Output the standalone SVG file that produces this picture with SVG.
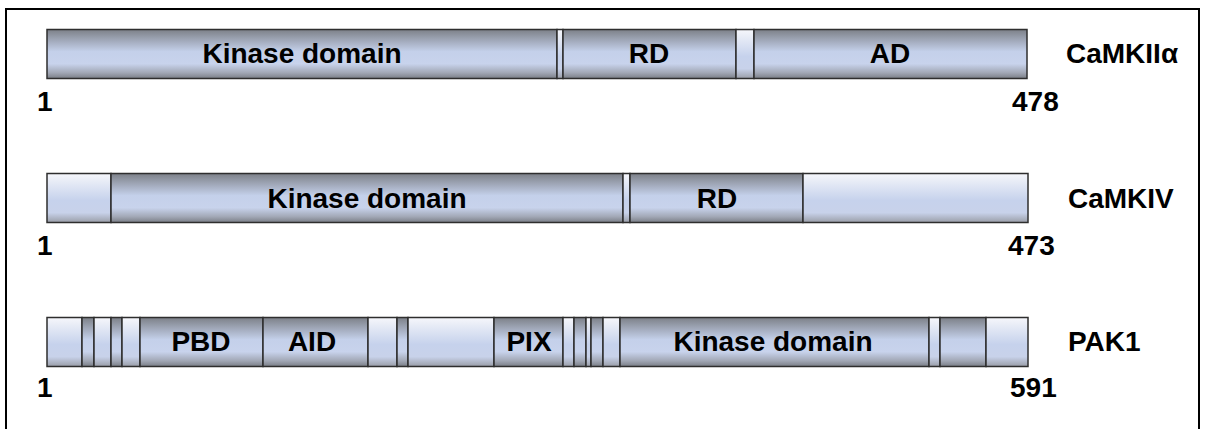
<svg xmlns="http://www.w3.org/2000/svg" width="1205" height="429" viewBox="0 0 1205 429">
<defs>
<linearGradient id="gd" x1="0" y1="0" x2="0" y2="1">
<stop offset="0" stop-color="#7c8088"/>
<stop offset="0.18" stop-color="#9aa1b0"/>
<stop offset="0.45" stop-color="#c4d0ea"/>
<stop offset="0.7" stop-color="#c8d3ec"/>
<stop offset="0.88" stop-color="#a2a8b6"/>
<stop offset="1" stop-color="#7a7e86"/>
</linearGradient>
<linearGradient id="gl" x1="0" y1="0" x2="0" y2="1">
<stop offset="0" stop-color="#f6f7fb"/>
<stop offset="0.2" stop-color="#e4e9f5"/>
<stop offset="0.55" stop-color="#c6d2ec"/>
<stop offset="0.8" stop-color="#c8d2ea"/>
<stop offset="1" stop-color="#9a9ea8"/>
</linearGradient>
<style>
.d{fill:url(#gd);stroke:#2e2e2e;stroke-width:1.5}
.l{fill:url(#gl);stroke:#2e2e2e;stroke-width:1.5}
text{font-family:"Liberation Sans",Arial,sans-serif;font-weight:bold;font-size:28px;fill:#000}
.c{text-anchor:middle}
</style>
</defs>
<rect width="1205" height="429" fill="#fff"/>
<rect x="6" y="9" width="1193" height="440" fill="none" stroke="#000" stroke-width="2"/>

<g id="camk2a">
<rect class="d" x="47" y="29.5" width="510" height="49"/>
<rect class="l" x="557" y="29.5" width="6" height="49"/>
<rect class="d" x="563" y="29.5" width="173" height="49"/>
<rect class="l" x="736" y="29.5" width="18" height="49"/>
<rect class="d" x="754" y="29.5" width="273" height="49"/>
<text class="c" x="302" y="63">Kinase domain</text>
<text class="c" x="649" y="63">RD</text>
<text class="c" x="890" y="63">AD</text>
<text x="1066" y="63">CaMKIIα</text>
<text x="37" y="111">1</text>
<text x="1012" y="111">478</text>
</g>

<g id="camk4">
<rect class="l" x="47" y="173.5" width="64" height="49"/>
<rect class="d" x="111" y="173.5" width="512" height="49"/>
<rect class="l" x="623" y="173.5" width="7" height="49"/>
<rect class="d" x="630" y="173.5" width="173" height="49"/>
<rect class="l" x="803" y="173.5" width="225" height="49"/>
<text class="c" x="367" y="208">Kinase domain</text>
<text class="c" x="717" y="208">RD</text>
<text x="1068" y="208">CaMKIV</text>
<text x="37" y="255">1</text>
<text x="1008" y="255">473</text>
</g>

<g id="pak1">
<rect class="l" x="47" y="317.5" width="35" height="49"/>
<rect class="d" x="82" y="317.5" width="12" height="49"/>
<rect class="l" x="94" y="317.5" width="17" height="49"/>
<rect class="d" x="111" y="317.5" width="11" height="49"/>
<rect class="l" x="122" y="317.5" width="18" height="49"/>
<rect class="d" x="140" y="317.5" width="123" height="49"/>
<rect class="d" x="263" y="317.5" width="105" height="49"/>
<rect class="l" x="368" y="317.5" width="29" height="49"/>
<rect class="d" x="397" y="317.5" width="11" height="49"/>
<rect class="l" x="408" y="317.5" width="86" height="49"/>
<rect class="d" x="494" y="317.5" width="69" height="49"/>
<rect class="l" x="563" y="317.5" width="11" height="49"/>
<rect class="d" x="574" y="317.5" width="12" height="49"/>
<rect class="l" x="586" y="317.5" width="5" height="49"/>
<rect class="d" x="591" y="317.5" width="12" height="49"/>
<rect class="l" x="603" y="317.5" width="17" height="49"/>
<rect class="d" x="620" y="317.5" width="309" height="49"/>
<rect class="l" x="929" y="317.5" width="11" height="49"/>
<rect class="d" x="940" y="317.5" width="46" height="49"/>
<rect class="l" x="986" y="317.5" width="42" height="49"/>
<text class="c" x="201" y="351">PBD</text>
<text class="c" x="312" y="351">AID</text>
<text class="c" x="529" y="351">PIX</text>
<text class="c" x="773" y="351">Kinase domain</text>
<text x="1068" y="351">PAK1</text>
<text x="37" y="397">1</text>
<text x="1010" y="397">591</text>
</g>
</svg>
